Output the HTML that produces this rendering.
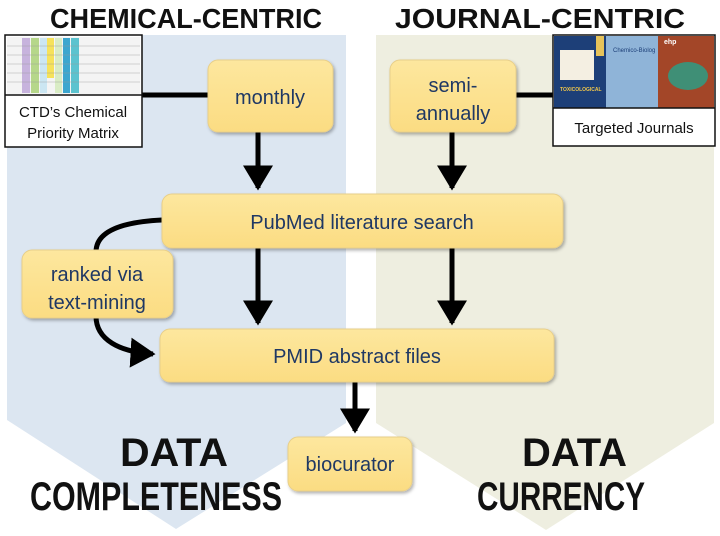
<!DOCTYPE html>
<html><head><meta charset="utf-8"><style>html,body{margin:0;padding:0;background:#fff}svg{display:block}</style></head><body>
<svg width="720" height="536" viewBox="0 0 720 536" xmlns="http://www.w3.org/2000/svg" font-family="Liberation Sans, sans-serif">
<defs>
<linearGradient id="yg" x1="0" y1="0" x2="0" y2="1"><stop offset="0" stop-color="#fde79e"/><stop offset="1" stop-color="#fbdc82"/></linearGradient>
<filter id="sh" x="-10%" y="-10%" width="130%" height="140%"><feDropShadow dx="1.5" dy="2" stdDeviation="1.5" flood-color="#000" flood-opacity="0.3"/></filter>
<marker id="ah" markerWidth="6" markerHeight="6" refX="4.5" refY="3" orient="auto" markerUnits="strokeWidth"><path d="M0,0 L5,3 L0,6 z" fill="#000"/></marker>
</defs>
<polygon points="7,35 346,35 346,423 176,529 7,420" fill="#dce6f1"/>
<polygon points="376,35 714,35 714,423 546,530 376,423" fill="#eeeee0"/>
<g font-weight="bold" fill="#111">
<text x="50" y="28" font-size="28" textLength="272" lengthAdjust="spacingAndGlyphs">CHEMICAL-CENTRIC</text>
<text x="395" y="28" font-size="28" textLength="290" lengthAdjust="spacingAndGlyphs">JOURNAL-CENTRIC</text>
<text x="120" y="466" font-size="40" textLength="108" lengthAdjust="spacingAndGlyphs">DATA</text>
<text x="30" y="510" font-size="40" textLength="252" lengthAdjust="spacingAndGlyphs">COMPLETENESS</text>
<text x="522" y="466" font-size="40" textLength="105" lengthAdjust="spacingAndGlyphs">DATA</text>
<text x="477" y="510" font-size="40" textLength="168" lengthAdjust="spacingAndGlyphs">CURRENCY</text>
</g>
<g stroke="#000" stroke-width="5" fill="none">
<line x1="142" y1="95" x2="210" y2="95"/>
<line x1="514" y1="95" x2="553" y2="95"/>
<line x1="258" y1="132" x2="258" y2="188" marker-end="url(#ah)"/>
<line x1="452" y1="132" x2="452" y2="188" marker-end="url(#ah)"/>
<line x1="258" y1="248" x2="258" y2="323" marker-end="url(#ah)"/>
<line x1="452" y1="248" x2="452" y2="323" marker-end="url(#ah)"/>
<line x1="355" y1="382" x2="355" y2="431" marker-end="url(#ah)"/>
<path d="M162,220 C120,222 96,232 96,252"/>
<path d="M96,316 C96,340 120,352 153,354" marker-end="url(#ah)"/>
</g>
<g filter="url(#sh)" fill="url(#yg)" stroke="#e8cf8a" stroke-width="1">
<rect x="208" y="60" width="125" height="72" rx="10"/>
<rect x="390" y="60" width="126" height="72" rx="10"/>
<rect x="162" y="194" width="401" height="54" rx="10"/>
<rect x="22" y="250" width="151" height="68" rx="10"/>
<rect x="160" y="329" width="394" height="53" rx="10"/>
<rect x="288" y="437" width="124" height="54" rx="10"/>
</g>
<g fill="#1f3864" font-size="20" text-anchor="middle">
<text x="270" y="104">monthly</text>
<text x="453" y="92">semi-</text>
<text x="453" y="120">annually</text>
<text x="362" y="229">PubMed literature search</text>
<text x="97" y="281">ranked via</text>
<text x="97" y="309">text-mining</text>
<text x="357" y="363">PMID abstract files</text>
<text x="350" y="471">biocurator</text>
</g>
<!-- matrix image -->
<rect x="5" y="35" width="137" height="112" fill="#fff" stroke="#111" stroke-width="1.5"/>
<g>
<rect x="7" y="37" width="133" height="57" fill="#f4f4f4"/>
<rect x="22" y="38" width="8" height="55" fill="#c7b3dd"/>
<rect x="31" y="38" width="8" height="55" fill="#b6d78a"/>
<rect x="40" y="38" width="7" height="55" fill="#cbe6f2"/>
<rect x="47" y="38" width="7" height="40" fill="#f6e25a"/>
<rect x="55" y="38" width="7" height="55" fill="#d9ecc5"/>
<rect x="63" y="38" width="7" height="55" fill="#3ca6cf"/>
<rect x="71" y="38" width="8" height="55" fill="#5cc3cf"/>
<g stroke="#999" stroke-width="0.4"><line x1="7" y1="46" x2="140" y2="46"/><line x1="7" y1="55" x2="140" y2="55"/><line x1="7" y1="64" x2="140" y2="64"/><line x1="7" y1="73" x2="140" y2="73"/><line x1="7" y1="82" x2="140" y2="82"/></g>
</g>
<line x1="5" y1="95" x2="142" y2="95" stroke="#111" stroke-width="1.5"/>
<text x="73" y="117" font-size="15" text-anchor="middle" fill="#111">CTD’s Chemical</text>
<text x="73" y="138" font-size="15" text-anchor="middle" fill="#111">Priority Matrix</text>
<!-- journals -->
<rect x="553" y="35" width="162" height="111" fill="#fff" stroke="#111" stroke-width="1.5"/>
<rect x="554" y="36" width="52" height="72" fill="#1d3f78"/>
<rect x="596" y="36" width="8" height="20" fill="#e6c35a"/>
<rect x="560" y="50" width="34" height="30" fill="#f4efe2"/>
<rect x="606" y="36" width="52" height="72" fill="#8fb4d8"/>
<rect x="658" y="36" width="56" height="72" fill="#a34628"/>
<ellipse cx="688" cy="76" rx="20" ry="14" fill="#3f8f76"/>
<text x="613" y="52" font-size="6" fill="#1d3f78">Chemico-Biolog</text>
<text x="664" y="44" font-size="7" font-weight="bold" fill="#fff">ehp</text>
<text x="560" y="91" font-size="5" font-weight="bold" fill="#f2c74a">TOXICOLOGICAL</text>
<line x1="553" y1="108" x2="715" y2="108" stroke="#111" stroke-width="1.5"/>
<text x="634" y="133" font-size="15" text-anchor="middle" fill="#111">Targeted Journals</text>
</svg>
</body></html>
